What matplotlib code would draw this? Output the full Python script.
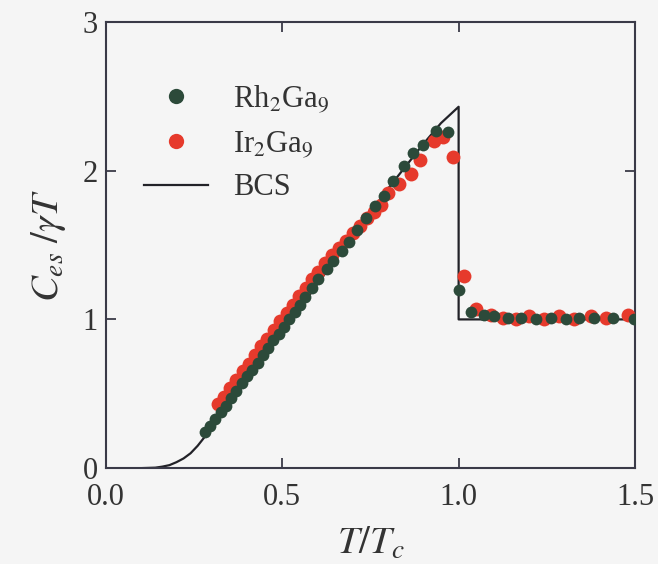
import matplotlib
matplotlib.use("Agg")
import matplotlib.pyplot as plt
from matplotlib.lines import Line2D

plt.rcParams['font.family'] = 'Liberation Serif'
plt.rcParams['mathtext.fontset'] = 'stix'

# Rh2Ga9 : T/Tc et Ces/gammaT
t_rh = [0.28, 0.295, 0.31, 0.325, 0.34, 0.355, 0.37, 0.385, 0.40, 0.415,
        0.43, 0.445, 0.46, 0.475, 0.49, 0.505, 0.52, 0.535, 0.55, 0.565,
        0.585, 0.602, 0.628, 0.645, 0.67, 0.688, 0.713, 0.736, 0.764, 0.787,
        0.815, 0.844, 0.872, 0.90, 0.935, 0.969, 1.0,
        1.034, 1.071, 1.099, 1.139, 1.176, 1.219, 1.261, 1.304, 1.341, 1.384,
        1.438, 1.497]
c_rh = [0.24, 0.28, 0.33, 0.38, 0.42, 0.47, 0.52, 0.57, 0.62, 0.66,
        0.71, 0.76, 0.81, 0.86, 0.90, 0.95, 1.00, 1.05, 1.10, 1.15,
        1.21, 1.27, 1.34, 1.39, 1.46, 1.52, 1.60, 1.68, 1.76, 1.83,
        1.93, 2.03, 2.12, 2.17, 2.27, 2.26, 1.20,
        1.05, 1.03, 1.02, 1.01, 1.01, 1.00, 1.01, 1.00, 1.01, 1.01,
        1.01, 1.00]

# Ir2Ga9
t_ir = [0.318, 0.335, 0.352, 0.37, 0.388, 0.405, 0.423, 0.44, 0.458, 0.476,
        0.494, 0.512, 0.53, 0.548, 0.566, 0.584, 0.602, 0.62, 0.64, 0.66,
        0.68, 0.70, 0.72, 0.74, 0.76, 0.78, 0.80, 0.83, 0.864, 0.89,
        0.93, 0.955, 0.983, 1.014,
        1.048, 1.091, 1.125, 1.162, 1.199, 1.241, 1.284, 1.327, 1.375, 1.418,
        1.48]
c_ir = [0.43, 0.48, 0.54, 0.59, 0.65, 0.70, 0.76, 0.82, 0.87, 0.93,
        0.99, 1.04, 1.10, 1.16, 1.21, 1.27, 1.32, 1.38, 1.43, 1.48,
        1.53, 1.58, 1.63, 1.68, 1.72, 1.77, 1.85, 1.91, 1.98, 2.07,
        2.20, 2.23, 2.09, 1.29,
        1.07, 1.03, 1.01, 1.00, 1.02, 1.00, 1.02, 1.00, 1.02, 1.01,
        1.03]

# courbe BCS
t_bcs = [0.10, 0.14, 0.16, 0.18, 0.20, 0.22, 0.24, 0.26, 0.28, 0.30,
         0.32, 0.34, 0.36, 0.40, 0.50, 0.60, 0.70, 0.80, 0.90, 0.95,
         1.0, 1.0, 1.5]
c_bcs = [0.0, 0.003, 0.01, 0.02, 0.04, 0.065, 0.10, 0.15, 0.21, 0.27,
         0.33, 0.40, 0.46, 0.59, 0.91, 1.24, 1.56, 1.88, 2.18, 2.32,
         2.43, 1.0, 1.0]

green = '#2c4a3a'
red = '#e63a2c'
bg = '#f5f5f5'
axc = '#3a3a48'

fig = plt.figure(figsize=(6.58, 5.64), dpi=100, facecolor=bg)
ax = fig.add_axes([0.161, 0.170, 0.804, 0.791], facecolor=bg)

ax.plot(t_bcs, c_bcs, color='#222228', lw=1.6, zorder=2)
ax.plot(t_ir, c_ir, 'o', color=red, ms=10, mec='none', zorder=3)
ax.plot(t_rh, c_rh, 'o', color=green, ms=8.5, mec='none', zorder=4)

ax.set_xlim(0, 1.5)
ax.set_ylim(0, 3)
ax.set_xticks([0.0, 0.5, 1.0, 1.5])
ax.set_xticklabels(['0.0', '0.5', '1.0', '1.5'])
ax.set_yticks([0, 1, 2, 3])
ax.tick_params(direction='in', length=7, width=1.3, color=axc,
               top=True, right=True, labelsize=22, labelcolor='#333')
ax.tick_params(axis='x', pad=11)
ax.tick_params(axis='y', pad=6)
for s in ax.spines.values():
    s.set_color(axc)
    s.set_linewidth(1.5)

ax.set_xlabel(r'$T/T_c$', fontsize=28, color='#333', labelpad=10)
ax.set_ylabel(r'$C_{es}\ /\gamma T$', fontsize=28, color='#333', labelpad=10)

handles = [Line2D([], [], ls='none', marker='o', color=green, ms=11, mec='none'),
           Line2D([], [], ls='none', marker='o', color=red, ms=11, mec='none'),
           Line2D([], [], color='#222228', lw=1.6)]
ax.legend(handles, [r'Rh$_2$Ga$_9$', r'Ir$_2$Ga$_9$', 'BCS'],
          loc='upper left', bbox_to_anchor=(0.02, 0.925), frameon=False,
          fontsize=22, labelspacing=0.45, handlelength=2.1,
          labelcolor='#333')

fig.savefig('out.png', dpi=100, facecolor=bg)
